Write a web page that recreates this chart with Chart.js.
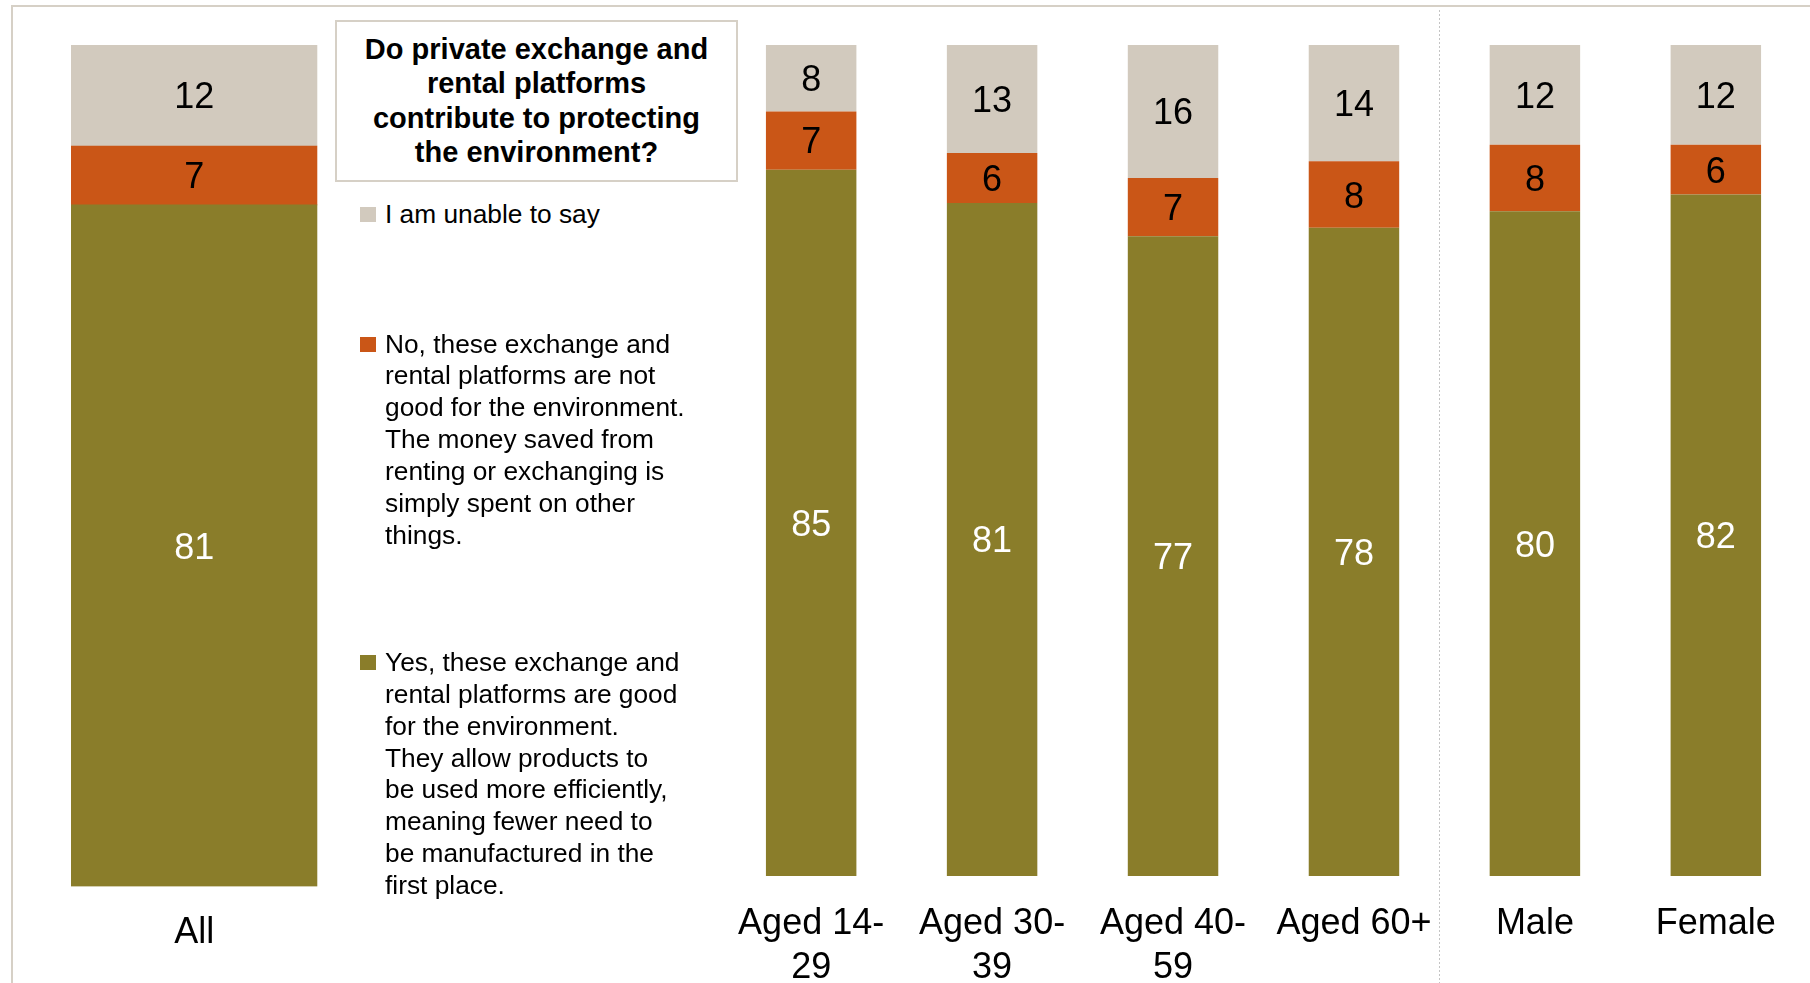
<!DOCTYPE html>
<html>
<head>
<meta charset="utf-8">
<script src="https://cdn.jsdelivr.net/npm/chart.js@4.4.1/dist/chart.umd.min.js"></script>
<style>
  html, body { margin: 0; padding: 0; background: #ffffff; }
  body { width: 1810px; height: 983px; position: relative; overflow: hidden;
         font-family: "Liberation Sans", Arial, sans-serif; color: #000; }
  .frame { position: absolute; left: 11px; top: 5px; right: 0; bottom: 0;
           border-top: 2px solid #d6d0c6; border-left: 2px solid #d6d0c6; }
  canvas { position: absolute; top: 0; }
  #chartAll { left: 0; }
  #chartGroups { left: 620px; }
  .question { position: absolute; left: 335px; top: 20px; width: 403px; height: 162px;
              box-sizing: border-box; border: 2px solid #d6d0c6; background: #fff;
              font-weight: bold; font-size: 29px; line-height: 34.3px; text-align: center;
              padding-top: 10px; }
  .legend-item { position: absolute; left: 360px; font-size: 26.3px; line-height: 31.85px; }
  .legend-item .swatch { position: absolute; left: 0; width: 16px; height: 15px; }
  .legend-item .text { position: absolute; left: 25px; white-space: nowrap; }
</style>
</head>
<body>
<div class="frame"></div>
<canvas id="chartAll" width="340" height="983"></canvas>
<canvas id="chartGroups" width="1190" height="983"></canvas>
<div class="question" id="question"></div>
<div id="legend"></div>
<script>
// Survey: do private exchange and rental platforms help the environment? (shares in %)
const questionLines = ['Do private exchange and', 'rental platforms', 'contribute to protecting', 'the environment?'];

const allCategory = ['All'];
const groupCategories = [['Aged 14-', '29'], ['Aged 30-', '39'], ['Aged 40-', '59'], ['Aged 60+'], ['Male'], ['Female']];

const yesAll = [81];
const noAll = [7];
const unableAll = [12];

const yesGroups = [85, 81, 77, 78, 80, 82];
const noGroups = [7, 6, 7, 8, 8, 6];
const unableGroups = [8, 13, 16, 14, 12, 12];

const unableLines = ['I am unable to say'];
const noLines = ['No, these exchange and', 'rental platforms are not', 'good for the environment.',
  'The money saved from', 'renting or exchanging is', 'simply spent on other', 'things.'];
const yesLines = ['Yes, these exchange and', 'rental platforms are good', 'for the environment.',
  'They allow products to', 'be used more efficiently,', 'meaning fewer need to',
  'be manufactured in the', 'first place.'];

const COLOR_YES = '#8a7d2a';
const COLOR_NO = '#ca5617';
const COLOR_UNABLE = '#d2cabe';
const FONT = '"Liberation Sans", Arial, sans-serif';

function makeDatasets(yes, no, unable) {
  return [
    { label: yesLines.join(' '), lines: yesLines, data: yes, backgroundColor: COLOR_YES, valueColor: '#ffffff' },
    { label: noLines.join(' '), lines: noLines, data: no, backgroundColor: COLOR_NO, valueColor: '#000000' },
    { label: unableLines.join(' '), lines: unableLines, data: unable, backgroundColor: COLOR_UNABLE, valueColor: '#000000' }
  ];
}

// Writes each segment's value in the middle of its bar piece.
const segmentValues = {
  id: 'segmentValues',
  afterDatasetsDraw(chart) {
    const ctx = chart.ctx;
    ctx.save();
    ctx.font = '36px ' + FONT;
    ctx.textAlign = 'center';
    ctx.textBaseline = 'middle';
    chart.data.datasets.forEach((ds, i) => {
      const meta = chart.getDatasetMeta(i);
      meta.data.forEach((bar, j) => {
        ctx.fillStyle = ds.valueColor;
        ctx.fillText(String(ds.data[j]), bar.x, (bar.y + bar.base) / 2 + 3);
      });
    });
    ctx.restore();
  }
};

// Dotted divider between the age groups and the gender groups.
const groupDivider = {
  id: 'groupDivider',
  afterDraw(chart, args, opts) {
    const x = chart.scales.x;
    const px = (x.getPixelForValue(opts.after) + x.getPixelForValue(opts.after + 1)) / 2 + opts.shift;
    const ctx = chart.ctx;
    ctx.save();
    ctx.strokeStyle = '#c4c4c4';
    ctx.lineWidth = 1;
    ctx.setLineDash([2, 2]);
    ctx.beginPath();
    ctx.moveTo(Math.round(px) + 0.5, 10);
    ctx.lineTo(Math.round(px) + 0.5, chart.height);
    ctx.stroke();
    ctx.restore();
  }
};

function baseOptions(padding, axisHeight, tickPadding, barPct) {
  return {
    responsive: false,
    animation: false,
    layout: { padding: padding },
    plugins: { legend: { display: false }, tooltip: { enabled: false } },
    datasets: { bar: { barPercentage: barPct, categoryPercentage: 1, borderWidth: 0 } },
    scales: {
      x: {
        stacked: true,
        grid: { display: false, drawTicks: false },
        border: { display: false },
        ticks: { color: '#000', padding: tickPadding, maxRotation: 0, autoSkip: false,
                 font: { family: FONT, size: 36, lineHeight: 1.2 } },
        afterFit(scale) { scale.height = axisHeight; }
      },
      y: { stacked: true, display: false, min: 0, max: 100 }
    }
  };
}

const chartAll = new Chart(document.getElementById('chartAll'), {
  type: 'bar',
  data: { labels: allCategory, datasets: makeDatasets(yesAll, noAll, unableAll) },
  options: baseOptions({ left: 71, right: 22.6, top: 45, bottom: 0 }, 96.5, 24.5, 1),
  plugins: [segmentValues]
});

const groupOpts = baseOptions({ left: 100.7, right: 3.7, top: 45, bottom: 0 }, 107, 26.8, 0.5);
groupOpts.plugins.groupDivider = { after: 3, shift: -5 };
const chartGroups = new Chart(document.getElementById('chartGroups'), {
  type: 'bar',
  data: { labels: groupCategories, datasets: makeDatasets(yesGroups, noGroups, unableGroups) },
  options: groupOpts,
  plugins: [segmentValues, groupDivider]
});

// Question box
document.getElementById('question').innerHTML = questionLines.join('<br>');

// Legend built from the chart's datasets, top series first
const legendTops = { 2: 199, 1: 328.6, 0: 647.1 };
const legendEl = document.getElementById('legend');
chartGroups.data.datasets.slice().reverse().forEach((ds) => {
  const idx = chartGroups.data.datasets.indexOf(ds);
  const item = document.createElement('div');
  item.className = 'legend-item';
  item.style.top = legendTops[idx] + 'px';
  const sw = document.createElement('div');
  sw.className = 'swatch';
  sw.style.background = ds.backgroundColor;
  sw.style.top = '8.2px';
  const tx = document.createElement('div');
  tx.className = 'text';
  tx.innerHTML = ds.lines.join('<br>');
  item.appendChild(sw);
  item.appendChild(tx);
  legendEl.appendChild(item);
});
</script>
</body>
</html>
